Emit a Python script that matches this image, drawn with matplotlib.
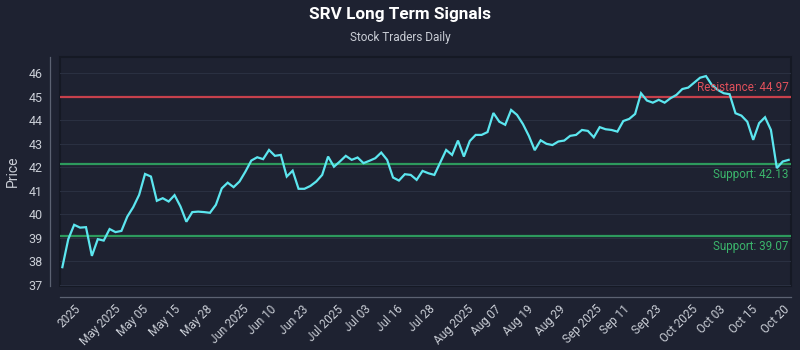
import numpy as np
import matplotlib
matplotlib.use("Agg")
import matplotlib.pyplot as plt
from matplotlib.patches import Rectangle

# ---- data ----
prices = [
    37.75, 38.94, 39.55, 39.43, 39.45, 38.23, 38.94, 38.88, 39.37, 39.24,
    39.29, 39.90, 40.30, 40.82, 41.71, 41.60, 40.57, 40.68, 40.54, 40.81,
    40.33, 39.68, 40.09, 40.11, 40.09, 40.06, 40.40, 41.10, 41.34, 41.15,
    41.39, 41.81, 42.28, 42.42, 42.34, 42.73, 42.48, 42.52, 41.60, 41.85,
    41.08, 41.08, 41.20, 41.39, 41.67, 42.45, 42.02, 42.24, 42.48, 42.31,
    42.41, 42.17, 42.27, 42.38, 42.62, 42.31, 41.56, 41.43, 41.70, 41.67,
    41.46, 41.84, 41.74, 41.67, 42.20, 42.73, 42.52, 43.13, 42.45, 43.11,
    43.37, 43.37, 43.49, 44.30, 43.93, 43.80, 44.43, 44.22, 43.83, 43.33,
    42.72, 43.14, 42.99, 42.94, 43.09, 43.13, 43.33, 43.37, 43.58, 43.54,
    43.27, 43.70, 43.61, 43.58, 43.51, 43.96, 44.05, 44.26, 45.14, 44.83,
    44.74, 44.86, 44.74, 44.93, 45.07, 45.32, 45.38, 45.59, 45.80, 45.87,
    45.49, 45.28, 45.14, 45.10, 44.29, 44.19, 43.93, 43.16, 43.87, 44.12,
    43.58, 41.96, 42.24, 42.31,
]
resistance_levels = [44.97]
support_levels = [42.13, 39.07]
tick_labels = ["2025", "May 2025", "May 05", "May 15", "May 28", "Jun 2025",
               "Jun 10", "Jun 23", "Jul 2025", "Jul 03", "Jul 16", "Jul 28",
               "Aug 2025", "Aug 07", "Aug 19", "Aug 29", "Sep 2025", "Sep 11",
               "Sep 23", "Oct 2025", "Oct 03", "Oct 15", "Oct 20"]
y_ticks = [37, 38, 39, 40, 41, 42, 43, 44, 45, 46]

# ---- style ----
BG = "#1e2231"
BOX = "#151924"
SPINE = "#5c6272"
GRID = "#2a3041"
TXT = "#c9cdd5"
LINE = "#5ce6ef"
RED = "#d9444f"
GREEN = "#2fa862"

plt.rcParams['font.family'] = ['Roboto', 'DejaVu Sans']

fig = plt.figure(figsize=(8, 3.5), dpi=100, facecolor=BG)
ax = fig.add_axes([60/800, 1-286/350, (791-60)/800, (286-57)/350])
ax.set_facecolor(BG)

x = np.arange(len(prices))
ax.plot(x, prices, color=LINE, lw=1.6, zorder=5, solid_joinstyle='miter')

for r in resistance_levels:
    ax.axhline(r, color=RED, lw=1.6, alpha=0.9, zorder=3)
    ax.text(0.997, r + 0.12, f"Resistance: {r:.2f}", transform=ax.get_yaxis_transform(),
            ha='right', va='bottom', color="#e0505b", fontsize=8.4, zorder=6)
for s in support_levels:
    ax.axhline(s, color=GREEN, lw=1.6, alpha=0.9, zorder=3)
    ax.text(0.997, s - 0.15, f"Support: {s:.2f}", transform=ax.get_yaxis_transform(),
            ha='right', va='top', color="#3bb56c", fontsize=8.4, zorder=6)

ax.set_xlim(-0.4, len(prices) - 1 + 0.4)
ax.set_ylim(36.95, 46.68)
ax.set_yticks(y_ticks)
ax.grid(axis='y', color=GRID, lw=0.8, zorder=0)
ax.grid(axis='x', visible=False)

tick_pos = np.linspace(1.1, 120.8, len(tick_labels))
ax.set_xticks(tick_pos)
ax.set_xticklabels(tick_labels)

ax.tick_params(axis='both', length=0, colors=TXT)
ax.tick_params(axis='y', pad=5, labelsize=9)
ax.tick_params(axis='x', pad=4, labelsize=8.5, labelrotation=45)
for lab in ax.get_xticklabels():
    lab.set_horizontalalignment('right')
    lab.set_rotation_mode('default')

for side in ['top', 'right']:
    ax.spines[side].set_visible(False)
ax.spines['left'].set_position(('outward', 7.5))
ax.spines['bottom'].set_position(('outward', 8))
ax.spines['left'].set_color(SPINE)
ax.spines['bottom'].set_color(SPINE)
ax.spines['left'].set_linewidth(0.9)
ax.spines['bottom'].set_linewidth(0.9)

ax.add_patch(Rectangle((0, 0), 1, 1, transform=ax.transAxes, fill=False,
                       edgecolor=BOX, lw=1.5, clip_on=False, zorder=1))

ax.set_ylabel("Price", color=TXT, fontsize=10, labelpad=6)

fig.text(0.5, 1-15/350, "SRV Long Term Signals", ha='center', va='center',
         color="white", fontsize=12.3, fontweight='bold')
fig.text(0.5, 1-38/350, "Stock Traders Daily", ha='center', va='center',
         color=TXT, fontsize=8.5)

fig.savefig("out.png", dpi=100, facecolor=BG)
